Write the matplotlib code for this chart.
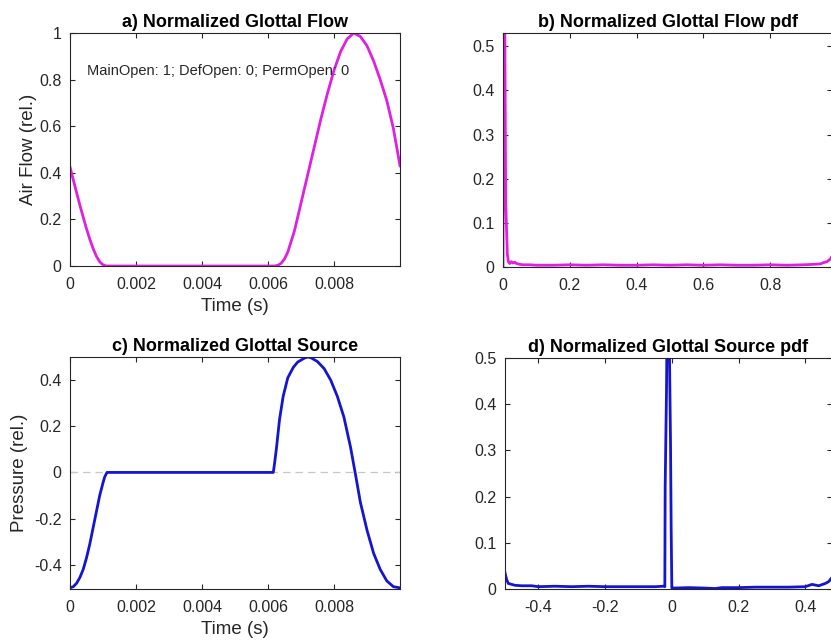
import numpy as np
import matplotlib
matplotlib.use("Agg")
import matplotlib.pyplot as plt

plt.rcParams['font.family'] = ['Liberation Sans', 'DejaVu Sans']

# a) normalized glottal flow
flow_t = [0.0, 0.0001, 0.0002, 0.0003, 0.0004, 0.0005, 0.0006, 0.0007, 0.0008, 0.0009,
          0.001, 0.0011, 0.0012, 0.003, 0.005, 0.0062, 0.0063, 0.0064, 0.0065, 0.0066,
          0.0068, 0.0070, 0.0072, 0.0074, 0.0076, 0.0078, 0.0080, 0.0082, 0.0084,
          0.0086, 0.0088, 0.0090, 0.0092, 0.0094, 0.0096, 0.0098, 0.0100]
flow_y = [0.425, 0.37, 0.315, 0.26, 0.21, 0.16, 0.115, 0.075, 0.042, 0.018,
          0.005, 0.0, 0.0, 0.0, 0.0, 0.0, 0.003, 0.012, 0.03, 0.06,
          0.15, 0.27, 0.39, 0.51, 0.63, 0.74, 0.84, 0.92, 0.975,
          1.0, 0.985, 0.945, 0.88, 0.80, 0.71, 0.59, 0.43]

# b) pdf of the flow
fpdf_x = [0.0, 0.003, 0.005, 0.008, 0.01, 0.013, 0.016, 0.02, 0.025, 0.03, 0.035, 0.04,
          0.05, 0.06, 0.08, 0.1, 0.15, 0.2, 0.25, 0.3, 0.35, 0.4, 0.45, 0.5, 0.55, 0.6,
          0.65, 0.7, 0.75, 0.8, 0.85, 0.9, 0.93, 0.95, 0.96, 0.97, 0.98, 0.99]
fpdf_y = [0.0, 0.9, 0.6, 0.15, 0.1, 0.03, 0.012, 0.008, 0.012, 0.009, 0.011, 0.008,
          0.006, 0.005, 0.005, 0.004, 0.004, 0.005, 0.004, 0.005, 0.004, 0.004, 0.005, 0.004, 0.005, 0.004,
          0.005, 0.004, 0.004, 0.005, 0.004, 0.005, 0.006, 0.007, 0.01, 0.012, 0.018, 0.03]

# c) normalized glottal source
src_t = [0.0, 0.0001, 0.0002, 0.0003, 0.0004, 0.0005, 0.0006, 0.0007, 0.0008, 0.0009,
         0.001, 0.00105, 0.00112, 0.003, 0.005, 0.00616, 0.0062, 0.00626, 0.00635, 0.00646,
         0.0066, 0.00677, 0.0069, 0.0071, 0.0072, 0.0073, 0.0075, 0.0077, 0.0079,
         0.0081, 0.0083, 0.0085, 0.00864, 0.0088, 0.0090, 0.0092, 0.0094, 0.0096,
         0.0098, 0.0100]
src_y = [-0.5, -0.495, -0.48, -0.455, -0.42, -0.37, -0.31, -0.24, -0.17, -0.1,
         -0.045, -0.02, 0.0, 0.0, 0.0, 0.0, 0.04, 0.11, 0.23, 0.33,
         0.41, 0.456, 0.478, 0.495, 0.5, 0.497, 0.48, 0.45, 0.4,
         0.33, 0.24, 0.11, 0.0, -0.13, -0.25, -0.35, -0.42, -0.47,
         -0.495, -0.5]

# d) pdf of the source
spdf_x = [-0.5, -0.495, -0.49, -0.48, -0.47, -0.45, -0.42, -0.4, -0.35, -0.3, -0.25, -0.2,
          -0.15, -0.1, -0.05, -0.025, -0.021, -0.02, -0.016, -0.014, -0.011, -0.007, -0.004,
          -0.002, 0.0, 0.003, 0.05, 0.1, 0.13, 0.15, 0.2, 0.25, 0.3, 0.35, 0.4, 0.42, 0.44,
          0.46, 0.47, 0.48]
spdf_y = [0.035, 0.02, 0.012, 0.01, 0.008, 0.007, 0.007, 0.005, 0.006, 0.005, 0.006, 0.005,
          0.005, 0.005, 0.005, 0.006, 0.005, 0.22, 0.43, 0.6, 0.6, 0.5, 0.32,
          0.13, 0.002, 0.002, 0.003, 0.002, 0.001, 0.003, 0.003, 0.004, 0.004, 0.004, 0.005, 0.01, 0.007,
          0.012, 0.016, 0.025]

flow_xticks = [0, 0.002, 0.004, 0.006, 0.008]
flow_xlabels = ["0", "0.002", "0.004", "0.006", "0.008"]
flow_yticks = [0, 0.2, 0.4, 0.6, 0.8, 1.0]
flow_ylabels = ["0", "0.2", "0.4", "0.6", "0.8", "1"]
src_yticks = [-0.4, -0.2, 0, 0.2, 0.4]
src_ylabels = ["-0.4", "-0.2", "0", "0.2", "0.4"]
fpdf_xticks = [0, 0.2, 0.4, 0.6, 0.8]
fpdf_xlabels = ["0", "0.2", "0.4", "0.6", "0.8"]
pdf_yticks = [0, 0.1, 0.2, 0.3, 0.4, 0.5]
pdf_ylabels = ["0", "0.1", "0.2", "0.3", "0.4", "0.5"]
spdf_xticks = [-0.4, -0.2, 0, 0.2, 0.4]
spdf_xlabels = ["-0.4", "-0.2", "0", "0.2", "0.4"]

W, H = 831, 643
fig = plt.figure(figsize=(W / 100, H / 100), dpi=100)


def box(l, t, r, b):
    return [l / W, 1 - b / H, (r - l) / W, (b - t) / H]


def style(ax):
    ax.tick_params(direction='in', length=3.5, top=True, right=True,
                   labelsize=11.5, colors='#262626', pad=6)
    ax.tick_params(axis='x', pad=8)
    for s in ax.spines.values():
        s.set_color('#262626')
        s.set_linewidth(0.8)


MAG = '#e020e0'
BLUE = '#1414d2'
TSIZE = 13
LSIZE = 13.5

ax1 = fig.add_axes(box(70, 33, 400, 266))
ax1.plot(flow_t, flow_y, color=MAG, lw=2)
ax1.set_xlim(0, 0.01)
ax1.set_ylim(0, 1)
ax1.set_xticks(flow_xticks, flow_xlabels)
ax1.set_yticks(flow_yticks, flow_ylabels)
ax1.set_title("a) Normalized Glottal Flow", fontsize=TSIZE, fontweight='bold', pad=4)
ax1.set_xlabel("Time (s)", fontsize=LSIZE, color='#262626', labelpad=4)
ax1.set_ylabel("Air Flow (rel.)", fontsize=LSIZE, color='#262626', labelpad=2)
ax1.text(0.00052, 0.837, "MainOpen: 1; DefOpen: 0; PermOpen: 0", fontsize=10.5,
         va='center', ha='left', color='#262626')
style(ax1)

ax2 = fig.add_axes(box(503, 33, 832, 267))
ax2.plot(fpdf_x, fpdf_y, color=MAG, lw=2)
ax2.set_xlim(0, 0.985)
ax2.set_ylim(0, 0.53)
ax2.set_xticks(fpdf_xticks, fpdf_xlabels)
ax2.set_yticks(pdf_yticks, pdf_ylabels)
ax2.set_title("b) Normalized Glottal Flow pdf", fontsize=TSIZE, fontweight='bold', pad=4)
style(ax2)

ax3 = fig.add_axes(box(70, 357, 400, 589))
ax3.axhline(0, color='#c8c8c8', lw=0.9, ls=(0, (6, 4)))
ax3.plot(src_t, src_y, color=BLUE, lw=2)
ax3.set_xlim(0, 0.01)
ax3.set_ylim(-0.505, 0.5)
ax3.set_xticks(flow_xticks, flow_xlabels)
ax3.set_yticks(src_yticks, src_ylabels)
ax3.set_title("c) Normalized Glottal Source", fontsize=TSIZE, fontweight='bold', pad=4)
ax3.set_xlabel("Time (s)", fontsize=LSIZE, color='#262626', labelpad=4)
ax3.set_ylabel("Pressure (rel.)", fontsize=LSIZE, color='#262626', labelpad=4)
style(ax3)

ax4 = fig.add_axes(box(505, 358, 832, 589))
ax4.plot(spdf_x, spdf_y, color=BLUE, lw=2)
ax4.set_xlim(-0.5, 0.48)
ax4.set_ylim(0, 0.5)
ax4.set_xticks(spdf_xticks, spdf_xlabels)
ax4.set_yticks(pdf_yticks, pdf_ylabels)
ax4.set_title("d) Normalized Glottal Source pdf", fontsize=TSIZE, fontweight='bold', pad=4)
style(ax4)

fig.savefig("out.png", dpi=100)
